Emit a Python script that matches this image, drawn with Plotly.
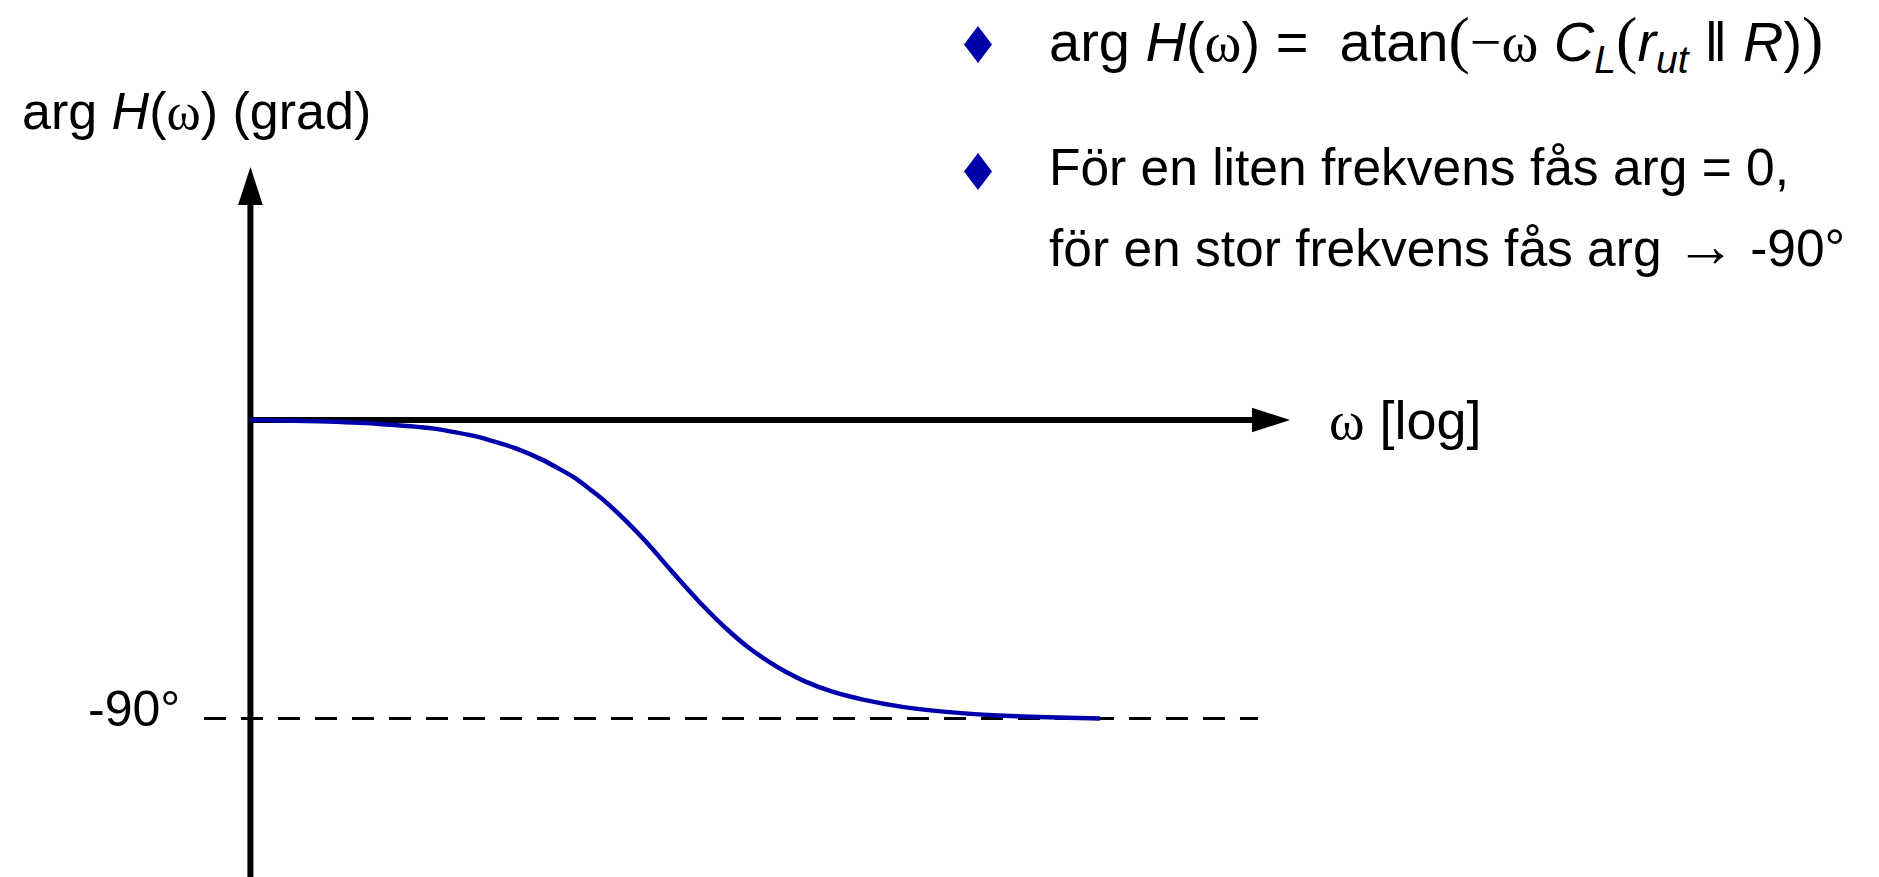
import plotly.graph_objects as go

# Phase response of a first-order low-pass stage, plotted against
# normalised frequency  w * C_L * (r_ut || R)  on a logarithmic axis.
omega = [0.0067, 0.015, 0.03, 0.06, 0.1, 0.16, 0.22, 0.32, 0.45, 0.6, 0.77, 1.0,
         1.25, 1.5, 2.0, 2.5, 3.2, 4.0, 5.0, 7.0, 10, 16, 27, 50, 90, 169]
phase_deg = [0, -0.4, -1.1, -2.6, -5.0, -8.6, -12.1, -17.4, -24.0, -30.8, -37.4, -45.0,
             -51.3, -56.3, -63.4, -68.2, -72.6, -76.0, -78.8, -82.0, -84.3, -86.5,
             -88.0, -89.1, -89.6, -90]

asymptote_deg = -90
asymptote_label = "-90°"

SANS = "Liberation Sans, Arial, Helvetica, sans-serif"
SERIF = "Liberation Serif, Times New Roman, serif"


def serif(s, size=None):
    style = f"font-family:{SERIF}"
    if size:
        style += f";font-size:{size}px"
    return f"<span style='{style}'>{s}</span>"


y_title = f"arg <i>H</i>({serif('ω')}) (grad)"
x_title = f"{serif('ω')} [log]"
bullet_1 = (f"arg <i>H</i>({serif('ω')}) =  atan{serif('(', 64)}{serif('−ω')} "
            f"<i>C</i><sub><i>L</i></sub>{serif('(', 64)}<i>r</i><sub><i>ut</i></sub>"
            f" ‖ <i>R</i>){serif(')', 64)}")
bullet_2a = "För en liten frekvens fås arg = 0,"
bullet_2b = f"för en stor frekvens fås arg {serif('→', 60)} -90°"

# ---- canvas / scale setup -------------------------------------------------
W, H = 1879, 877
PX_PER_DECADE = 193.0      # horizontal pixels per decade of omega
X_CORNER_PX = 670.0        # pixel column of omega = 1
Y_ZERO_PX = 420.0          # pixel row of 0 degrees
PX_PER_DEG = 3.3167        # vertical pixels per degree

x_range = [(0 - X_CORNER_PX) / PX_PER_DECADE, (W - X_CORNER_PX) / PX_PER_DECADE]
y_range = [-(H - Y_ZERO_PX) / PX_PER_DEG, Y_ZERO_PX / PX_PER_DEG]


def px(x):
    return x / W


def py(y):
    return 1 - y / H


BLUE = "#0000AA"
AXIS_W = 6

# axis extents (data units)
w_axis_start = omega[0]
w_axis_shaft_end = 1285
w_axis_tip = 1631
phi_axis_bottom = -140
phi_axis_shaft_end = 70.3
phi_axis_tip = 76.3
w_dash_start, w_dash_end = 0.00385, 1113

fig = go.Figure()

# frequency axis (0 degrees)
fig.add_trace(go.Scatter(x=[w_axis_start, w_axis_shaft_end], y=[0, 0], mode="lines",
                         line=dict(color="black", width=AXIS_W), hoverinfo="skip"))
# phase axis
fig.add_trace(go.Scatter(x=[w_axis_start, w_axis_start], y=[phi_axis_bottom, phi_axis_shaft_end],
                         mode="lines", line=dict(color="black", width=AXIS_W), hoverinfo="skip"))
# arrow heads
fig.add_trace(go.Scatter(x=[w_axis_tip, w_axis_start], y=[0, phi_axis_tip], mode="markers",
                         marker=dict(symbol="arrow", size=40, angle=[90, 0], color="black",
                                     line=dict(width=0)),
                         hoverinfo="skip"))
# asymptote
fig.add_trace(go.Scatter(x=[w_dash_start, w_dash_end], y=[asymptote_deg, asymptote_deg],
                         mode="lines", line=dict(color="black", width=3, dash="22px,15px"),
                         hoverinfo="skip"))
# phase curve
fig.add_trace(go.Scatter(x=omega, y=phase_deg, mode="lines",
                         line=dict(color=BLUE, width=4.5, shape="spline", smoothing=0.5),
                         hoverinfo="skip"))


def text_at(text, x, y, size, xanchor="left", yref="paper", yshift=0):
    return dict(text=text, xref="paper", yref=yref, x=px(x), y=y,
                xanchor=xanchor, yanchor="middle", yshift=yshift, showarrow=False,
                font=dict(family=SANS, size=size, color="black"))


annotations = [
    text_at(y_title, 20, py(111.5), 52),
    text_at(asymptote_label, 182, asymptote_deg, 50, xanchor="right", yref="y", yshift=10),
    text_at(x_title, 1327, 0, 54, yref="y"),
    text_at(bullet_1, 1047, py(43), 56),
    text_at(bullet_2a, 1047, py(167), 51.5),
    text_at(bullet_2b, 1047, py(246), 51.5),
]

# bullet diamonds
shapes = []
for cy in (44.5, 171.5):
    cx, hw, hh = 978, 14, 18.5
    path = (f"M{px(cx)},{py(cy - hh)} L{px(cx + hw)},{py(cy)} "
            f"L{px(cx)},{py(cy + hh)} L{px(cx - hw)},{py(cy)} Z")
    shapes.append(dict(type="path", path=path, xref="paper", yref="paper",
                       fillcolor=BLUE, line=dict(width=0)))

fig.update_layout(
    width=W, height=H,
    margin=dict(l=0, r=0, t=0, b=0),
    paper_bgcolor="white", plot_bgcolor="white",
    showlegend=False,
    xaxis=dict(type="log", range=x_range, visible=False, fixedrange=True),
    yaxis=dict(range=y_range, visible=False, fixedrange=True),
    annotations=annotations,
    shapes=shapes,
)

fig.write_html("out.html", config={"displayModeBar": False})
